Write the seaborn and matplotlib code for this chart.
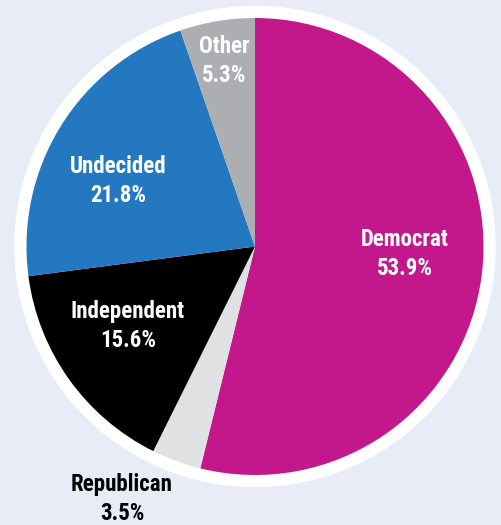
import matplotlib
matplotlib.use("Agg")
import matplotlib.pyplot as plt
import seaborn as sns

# Party affiliation shares (%)
parties = ["Democrat", "Republican", "Independent", "Undecided", "Other"]
shares = [53.9, 3.5, 15.6, 21.8, 5.3]
colors = ["#c2188b", "#e0e1e3", "#000000", "#2478bf", "#adaeb1"]

sns.set_theme(style="white")
plt.rcParams["font.family"] = ["Liberation Sans Narrow", "Roboto Condensed",
                               "DejaVu Sans Condensed", "Roboto", "DejaVu Sans"]

BG = "#e8ecf6"
W, H = 502, 525
fig = plt.figure(figsize=(W / 100, H / 100), dpi=100, facecolor=BG)
ax = fig.add_axes([0, 0, 1, 1])
ax.set_facecolor(BG)

cx, cy, R = 255, 525 - 246.5, 228.5

# white rim behind the pie
ax.add_patch(plt.Circle((cx, cy), R + 11.5, color="white", zorder=0))

ax.pie(shares, colors=colors, startangle=90, counterclock=False,
       center=(cx, cy), radius=R, frame=True,
       wedgeprops=dict(linewidth=0))

ax.set_xlim(0, W)
ax.set_ylim(0, H)
ax.set_aspect("equal")
ax.axis("off")

label_pos = {
    "Democrat": (405, 254, "white"),
    "Other": (224, 61, "white"),
    "Undecided": (118, 181, "white"),
    "Independent": (128, 326, "white"),
    "Republican": (122, 499, "black"),
}
for name, val in zip(parties, shares):
    x, y, c = label_pos[name]
    ax.text(x, H - y, f"{name}\n{val}%", ha="center", va="center",
            color=c, fontsize=16.5, fontweight="bold", linespacing=1.38)

fig.savefig("out.png", dpi=100, facecolor=BG)
